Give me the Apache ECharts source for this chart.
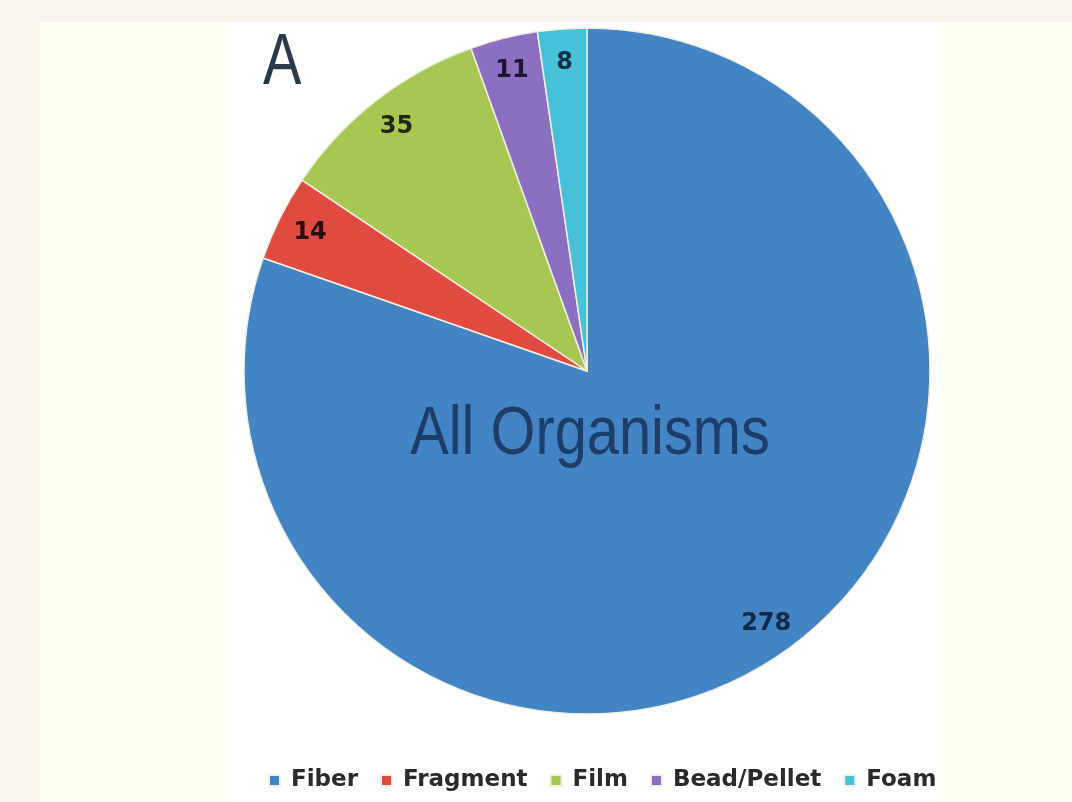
<!DOCTYPE html>
<html>
<head>
<meta charset="utf-8">
<script src="https://cdn.jsdelivr.net/npm/echarts@6/dist/echarts.min.js"></script>
<style>
  html, body { margin: 0; padding: 0; background: #f7f4ee; }
  #chart { width: 1072px; height: 802px; }
</style>
</head>
<body>
<div id="chart"></div>
<script>
// ---- data ----
var categories = ['Fiber', 'Fragment', 'Film', 'Bead/Pellet', 'Foam'];
var counts = [278, 14, 35, 11, 8];
var panelLetter = 'A';
var centerTitle = 'All Organisms';

// ---- styles ----
var sliceColors = ['#4384c5', '#e04a41', '#a8c752', '#8d6fc1', '#47c1d9'];
var labelColors = ['#0f2a4a', '#2a0e0e', '#1c2a10', '#1e1535', '#10304a'];

var chart = echarts.init(document.getElementById('chart'), null, { renderer: 'canvas' });

var pieData = categories.map(function (c, i) {
  return { name: c, value: counts[i], itemStyle: { color: sliceColors[i] } };
});
var labelData = categories.map(function (c, i) {
  return { name: c, value: counts[i], label: { color: labelColors[i] } };
});

var center = [587, 371];
var R = 343;

chart.setOption({
  backgroundColor: '#f7f4ee',
  animation: false,
  graphic: [
    { type: 'rect', silent: true, z: -10, shape: { x: 40, y: 22, width: 1032, height: 780 }, style: { fill: '#fffff3' } },
    { type: 'rect', silent: true, z: -9, shape: { x: 232, y: 22, width: 706, height: 780 }, style: { fill: '#ffffff' } },
    { type: 'text', silent: true, z: 10, x: 263, y: 64, scaleX: 0.8,
      style: { text: panelLetter, fontFamily: 'Liberation Sans', fontSize: 72, fill: '#2b3a48', align: 'left', verticalAlign: 'middle' } },
    { type: 'text', silent: true, z: 10, x: 590, y: 435, scaleX: 0.85,
      style: { text: centerTitle, fontFamily: 'Liberation Sans', fontSize: 68, fill: '#1d3d6b', align: 'center', verticalAlign: 'middle' } }
  ],
  legend: {
    data: categories,
    left: 263,
    top: 764,
    itemWidth: 11,
    itemHeight: 11,
    itemGap: 22,
    icon: 'rect',
    selectedMode: false,
    textStyle: { fontFamily: 'DejaVu Sans', fontWeight: 'bold', fontSize: 23, color: '#2a2a2a', padding: [0, 0, 0, 6] }
  },
  series: [
    {
      type: 'pie',
      silent: true,
      center: center,
      radius: [0, R],
      startAngle: 90,
      clockwise: true,
      avoidLabelOverlap: false,
      label: { show: false },
      labelLine: { show: false },
      itemStyle: { borderColor: '#f0f0e2', borderWidth: 1.5 },
      data: pieData
    },
    {
      type: 'pie',
      silent: true,
      center: center,
      radius: [270, R],
      startAngle: 90,
      clockwise: true,
      avoidLabelOverlap: false,
      itemStyle: { color: 'rgba(0,0,0,0)', borderWidth: 0 },
      label: {
        show: true,
        position: 'inside',
        formatter: '{c}',
        fontFamily: 'DejaVu Sans',
        fontWeight: 'bold',
        fontSize: 24
      },
      labelLine: { show: false },
      data: labelData
    }
  ]
});
</script>
</body>
</html>
